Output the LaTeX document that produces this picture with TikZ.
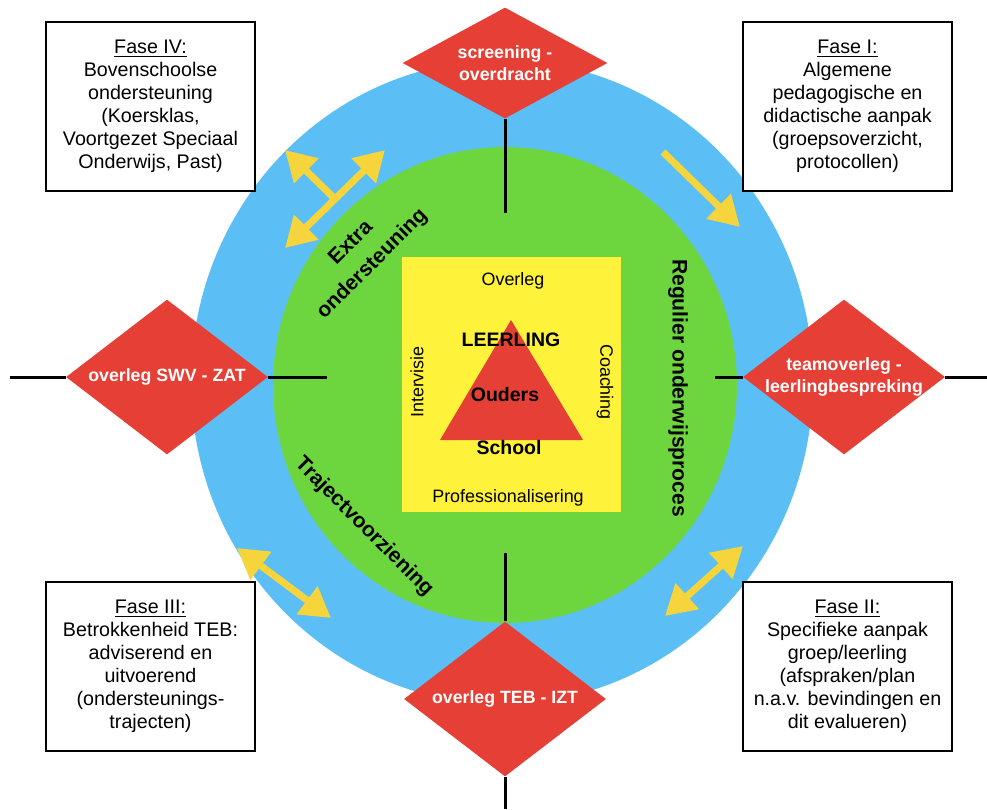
\documentclass[tikz,border=0pt]{standalone}
\usepackage{fontspec}
\setmainfont{Liberation Sans}
\usetikzlibrary{shapes.geometric,arrows.meta,positioning}

\definecolor{ringblue}{HTML}{5BBEF4}
\definecolor{ringgreen}{HTML}{6DD63F}
\definecolor{coreyellow}{HTML}{FFF23A}
\definecolor{nodered}{HTML}{E63F36}
\definecolor{arrowyellow}{HTML}{F6D43C}

\begin{document}
\begin{tikzpicture}[x=0.02cm,y=-0.02cm]

  \tikzstyle{fase} = [draw, fill=white, rectangle, line width=1.4pt, minimum width=4.18cm, minimum height=3.38cm, inner sep=0pt, align=center, font=\fontsize{11.2}{13.1}\selectfont]
  \tikzstyle{overleg} = [fill=nodered, diamond, inner sep=0pt, minimum width=4.04cm, minimum height=3.1cm]
  \tikzstyle{overlegtekst} = [align=center, text=white, font=\bfseries\fontsize{10.1}{12.4}\selectfont]
  \tikzstyle{kerntekst} = [font=\fontsize{10.2}{12}\selectfont]
  \tikzstyle{kernvet} = [font=\bfseries\fontsize{11.1}{13}\selectfont]
  \tikzstyle{boog} = [align=center, font=\bfseries\fontsize{12}{17}\selectfont]
  \tikzstyle{pijl} = [draw=arrowyellow, line width=4pt, >={Triangle[width=19pt,length=17pt]}]
  \tikzstyle{lijn} = [-, color=black!100, line width=1.7pt]

  \useasboundingbox (0,0) rectangle (987,809);

  % rings
  \fill[ringblue] (502,382) ellipse [x radius=6.22cm, y radius=6.44cm];
  \fill[ringgreen] (505,385) ellipse [x radius=4.64cm, y radius=4.76cm];

  % core
  \node[fill=coreyellow, rectangle, inner sep=0pt, minimum width=4.38cm, minimum height=5.1cm] (kern) at (511.5,384.5) {};
  \coordinate (top) at (511,320);
  \coordinate (rechtsonder) at (583,440);
  \coordinate (linksonder) at (440,440);
  \fill[nodered] (top) -- (rechtsonder) -- (linksonder) -- cycle;

  \node[kerntekst] (overlegkern) at (513,281) {Overleg};
  \node[kerntekst] (prof) at (508,498) {Professionalisering};
  \node[kerntekst, rotate=90] (intervisie) at (417,382) {Intervisie};
  \node[kerntekst, rotate=-90] (coaching) at (605,382) {Coaching};
  \node[kernvet] (leerling) at (511,340) {LEERLING};
  \node[kernvet] (ouders) at (505,395) {Ouders};
  \node[kernvet] (school) at (509,448) {School};

  % ring labels
  \node[boog, rotate=-90] (regulier) at (678,388) {Regulier onderwijsproces};
  \node[boog, rotate=45] (extra) at (362,254) {Extra\\ondersteuning};
  \node[boog, rotate=-45] (traject) at (364,527) {Trajectvoorziening};

  % yellow arrows
  \coordinate (ivZW) at (285,248);
  \coordinate (ivNO) at (385,150);
  \coordinate (ivMid) at (335,199);
  \coordinate (ivNW) at (285,150);
  \coordinate (iBoven) at (663,152);
  \coordinate (iOnder) at (740,227);
  \coordinate (iiZW) at (665,616);
  \coordinate (iiNO) at (743,546);
  \coordinate (iiiNW) at (237,548);
  \coordinate (iiiZO) at (331,618);
  \draw[pijl,<->] (ivZW) -- (ivNO);
  \draw[pijl,->] (ivMid) -- (ivNW);
  \draw[pijl,->] (iBoven) -- (iOnder);
  \draw[pijl,<->] (iiZW) -- (iiNO);
  \draw[pijl,<->] (iiiNW) -- (iiiZO);

  % diamonds
  \node[overleg, minimum width=4.1cm, minimum height=2.22cm] (screening) at (505,63) {};
  \node[overleg] (swv) at (167,377) {};
  \node[overleg] (team) at (844,377) {};
  \node[overleg] (teb) at (505,699) {};
  \node[overlegtekst] (screeningtekst) at (screening) {screening -\\overdracht};
  \node[overlegtekst] (swvtekst) at (swv) {overleg SWV - ZAT};
  \node[overlegtekst] (teamtekst) at (team) {teamoverleg -\\leerlingbespreking};
  \node[overlegtekst] (tebtekst) at (teb) {overleg TEB - IZT};

  \coordinate (boveneind) at (505,213);
  \coordinate (ondereind) at (505,553);
  \coordinate (onderrand) at (505,809);
  \coordinate (linksrand) at (10,377);
  \coordinate (linkseind) at (327,377);
  \coordinate (rechtseind) at (715,377);
  \coordinate (rechtsrand) at (987,377);

  \draw[lijn] (screening.south) -- (boveneind);
  \draw[lijn] (ondereind) -- (teb.north);
  \draw[lijn] (teb.south) -- (onderrand);
  \draw[lijn] (linksrand) -- (swv.west);
  \draw[lijn] (swv.east) -- (linkseind);
  \draw[lijn] (rechtseind) -- (team.west);
  \draw[lijn] (team.east) -- (rechtsrand);

  % phases
  \node[fase] (faseIV) at (150.5,106.5) {\underline{Fase IV:}\\Bovenschoolse\\ondersteuning\\(Koersklas,\\Voortgezet Speciaal\\Onderwijs, Past)};
  \node[fase] (faseI) at (847.5,106.5) {\underline{Fase I:}\\Algemene\\pedagogische en\\didactische aanpak\\(groepsoverzicht,\\protocollen)};
  \node[fase] (faseIII) at (150.5,666.5) {\underline{Fase III:}\\Betrokkenheid TEB:\\adviserend en\\uitvoerend\\(ondersteunings-\\trajecten)};
  \node[fase] (faseII) at (847.5,666.5) {\underline{Fase II:}\\Specifieke aanpak\\groep/leerling\\(afspraken/plan\\n.a.v. bevindingen en\\dit evalueren)};

\end{tikzpicture}
\end{document}
